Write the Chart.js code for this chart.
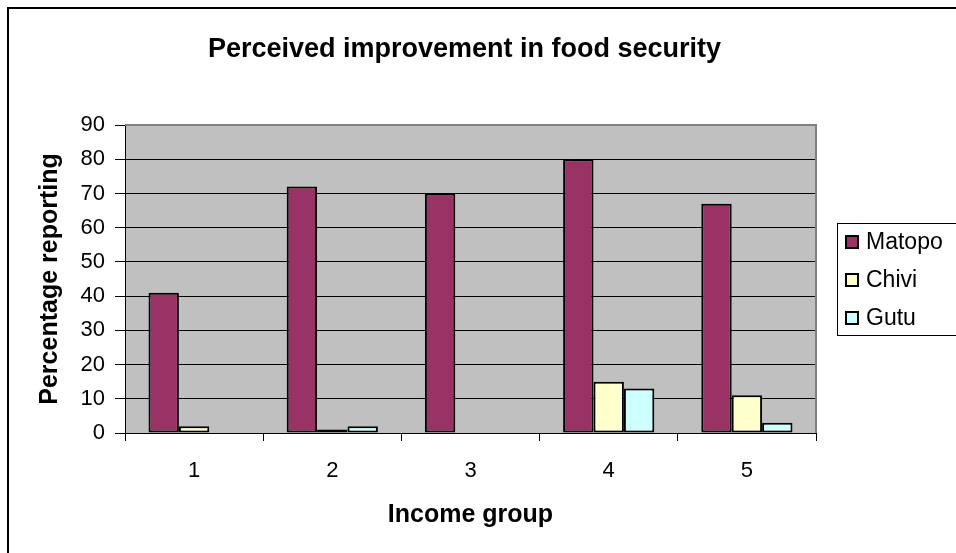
<!DOCTYPE html>
<html>
<head>
<meta charset="utf-8">
<script src="https://cdn.jsdelivr.net/npm/chart.js@4"></script>
<style>
    html, body { margin: 0; padding: 0; background: #fff; }
    #wrap { width: 956px; height: 553px; position: relative; }
</style>
</head>
<body>
<div id="wrap"><canvas id="foodChart"></canvas></div>
<script>
// Chart data
const incomeGroups = ['1', '2', '3', '4', '5'];
const matopo = [41, 72, 70, 80, 67];
const chivi = [2, 1, 0, 15, 11];
const gutu = [0, 2, 0, 13, 3];
const yMin = 0, yMax = 90, yStep = 10;

const chartTitle = 'Perceived improvement in food security';
const FONT = "'Liberation Sans', Arial, sans-serif";

// Excel-ish frame: grey plot area, outer border, title, boxed legend
const excelFrame = {
    id: 'excelFrame',
    beforeDraw(chart) {
        const { ctx, chartArea: a } = chart;
        ctx.save();
        ctx.fillStyle = '#c0c0c0';
        ctx.fillRect(a.left, a.top, a.right - a.left, a.bottom - a.top);
        // outer chart border (right/bottom fall outside the canvas)
        ctx.strokeStyle = '#000';
        ctx.lineWidth = 2;
        ctx.strokeRect(8, 8, 1100, 800);
        ctx.restore();
    },
    afterDraw(chart) {
        const { ctx, chartArea: a } = chart;
        ctx.save();
        // plot area border on top / right
        ctx.strokeStyle = '#808080';
        ctx.lineWidth = 2;
        ctx.beginPath();
        ctx.moveTo(a.left, a.top);
        ctx.lineTo(a.right, a.top);
        ctx.lineTo(a.right, a.bottom);
        ctx.stroke();

        // title
        ctx.fillStyle = '#000';
        ctx.font = 'bold 27px ' + FONT;
        ctx.textAlign = 'center';
        ctx.textBaseline = 'alphabetic';
        ctx.fillText(chartTitle, (a.left + a.right) / 2 - 6, 57);

        // legend
        const boxX = 837, boxY = 223, boxH = 112;
        ctx.strokeStyle = '#000';
        ctx.lineWidth = 1;
        ctx.strokeRect(boxX + 0.5, boxY + 0.5, 200, boxH);
        ctx.font = '23px ' + FONT;
        ctx.textAlign = 'left';
        ctx.textBaseline = 'middle';
        chart.data.datasets.forEach((ds, i) => {
            const cy = 242 + i * 38;
            ctx.fillStyle = ds.backgroundColor;
            ctx.fillRect(846, cy - 6, 12, 12);
            ctx.lineWidth = 2;
            ctx.strokeRect(846, cy - 6, 12, 12);
            ctx.fillStyle = '#000';
            ctx.fillText(ds.label, 866, cy + 1);
        });
        ctx.restore();
    }
};

const ctx = document.getElementById('foodChart').getContext('2d');

Chart.defaults.font.family = FONT;
Chart.defaults.color = '#000';

const barStyle = { borderColor: '#000', borderWidth: 2, borderSkipped: false };

new Chart(ctx, {
    type: 'bar',
    data: {
        labels: incomeGroups,
        datasets: [
            { label: 'Matopo', data: matopo, backgroundColor: '#993366', ...barStyle },
            { label: 'Chivi', data: chivi, backgroundColor: '#ffffcc', ...barStyle },
            { label: 'Gutu', data: gutu, backgroundColor: '#ccffff', ...barStyle }
        ]
    },
    options: {
        responsive: true,
        maintainAspectRatio: false,
        animation: false,
        categoryPercentage: 0.66,
        barPercentage: 1.0,
        layout: { padding: { top: 125, right: 140, bottom: 0, left: 0 } },
        plugins: {
            legend: { display: false },
            title: { display: false },
            tooltip: { enabled: false }
        },
        scales: {
            x: {
                afterFit: (scale) => { scale.height = 120; },
                grid: {
                    offset: true,
                    drawOnChartArea: false,
                    drawTicks: true,
                    tickLength: 8,
                    color: '#000',
                    lineWidth: 1
                },
                border: { color: '#000', width: 1 },
                ticks: { font: { size: 22 }, padding: 17, color: '#000' },
                title: {
                    display: true,
                    text: 'Income group',
                    font: { size: 25, weight: 'bold' },
                    padding: { top: 0, bottom: 23 },
                    color: '#000'
                }
            },
            y: {
                min: yMin,
                max: yMax,
                afterFit: (scale) => { scale.width = 125; },
                grid: {
                    color: (c) => (c.tick && c.tick.value === yMax ? 'rgba(0,0,0,0)' : '#000'),
                    tickColor: '#000',
                    tickLength: 10,
                    lineWidth: 1
                },
                border: { color: '#000', width: 1 },
                ticks: { stepSize: yStep, font: { size: 22 }, padding: 10, color: '#000' },
                title: {
                    display: true,
                    text: 'Percentage reporting',
                    font: { size: 25, weight: 'bold' },
                    padding: { top: 35, bottom: 0 },
                    color: '#000'
                }
            }
        }
    },
    plugins: [excelFrame]
});
</script>
</body>
</html>
